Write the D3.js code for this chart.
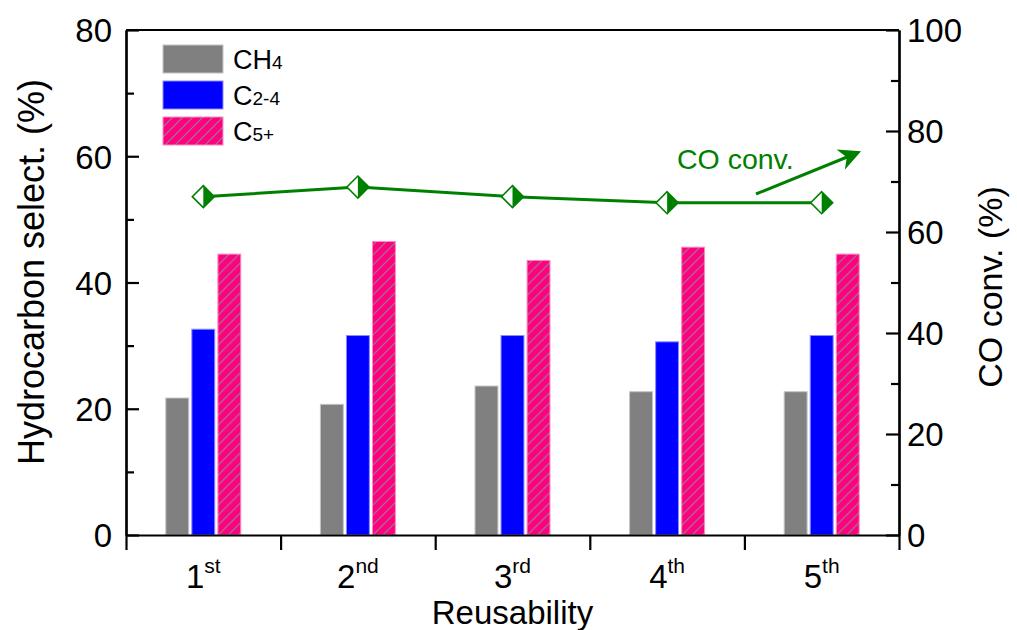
<!DOCTYPE html>
<html>
<head>
<meta charset="utf-8">
<script src="https://cdn.jsdelivr.net/npm/d3@7"></script>
<style>
  body { margin: 0; background: #fff; }
  #chart { width: 1017px; height: 630px; }
  text { font-family: "Liberation Sans", Arial, sans-serif; }
</style>
</head>
<body>
<div id="chart"></div>
<script>
// categories and values
var cycles = ["1", "2", "3", "4", "5"];
var cycleSup = ["st", "nd", "rd", "th", "th"];
var ch4 = [21.7, 20.7, 23.6, 22.7, 22.7];
var c24 = [32.6, 31.6, 31.6, 30.6, 31.6];
var c5 = [44.5, 46.5, 43.5, 45.6, 44.5];
var coConv = [67.0, 68.9, 67.0, 65.8, 65.8];

var seriesNames = ["CH4", "C2-4", "C5+"];
var leftTicks = [0, 20, 40, 60, 80];
var leftMinor = [10, 30, 50, 70];
var rightTicks = [0, 20, 40, 60, 80, 100];
var rightMinor = [10, 30, 50, 70, 90];

var width = 1017, height = 630;
var svg = d3.select("#chart").append("svg")
    .attr("width", width)
    .attr("height", height);

// hatch for C5+
var defs = svg.append("defs");
var pat = defs.append("pattern")
    .attr("id", "hatch")
    .attr("patternUnits", "userSpaceOnUse")
    .attr("width", 10).attr("height", 10);
pat.append("rect").attr("width", 10).attr("height", 10).attr("fill", "#ff0080");
pat.append("path")
    .attr("d", "M-2,2 L2,-2 M0,10 L10,0 M8,12 L12,8")
    .attr("stroke", "#8a8a8a")
    .attr("stroke-width", 1.1);

var styles = [
    { fill: "#808080", stroke: "#c4c4c4" },
    { fill: "#0000ff", stroke: "#8a8aff" },
    { fill: "url(#hatch)", stroke: "#ff8ac4" }
];

// plot frame (top is a reserved window name, so keep these prefixed)
var pLeft = 126, pRight = 899, pTop = 30, pBottom = 535;

var x = d3.scaleBand().domain(cycles).range([pLeft, pRight]).paddingInner(0).paddingOuter(0);
var xSub = d3.scaleBand().domain(seriesNames).range([-37.5, 37.5]).paddingInner(0.12);
var yL = d3.scaleLinear().domain([0, 80]).range([pBottom, pTop]);
var yR = d3.scaleLinear().domain([0, 100]).range([pBottom, pTop]);

// Bars
var table = cycles.map(function(c, i) {
    return { cycle: c, vals: [ch4[i], c24[i], c5[i]] };
});

var groups = svg.append("g").attr("id", "bars").selectAll("g")
    .data(table)
    .enter().append("g")
    .attr("transform", function(d) { return "translate(" + (x(d.cycle) + x.bandwidth() / 2) + ",0)"; });

groups.selectAll("rect")
    .data(function(d) { return d.vals.map(function(v, k) { return { k: k, v: v }; }); })
    .enter().append("rect")
    .attr("x", function(d) { return xSub(seriesNames[d.k]); })
    .attr("width", xSub.bandwidth())
    .attr("y", function(d) { return yL(d.v); })
    .attr("height", function(d) { return pBottom - yL(d.v); })
    .attr("fill", function(d) { return styles[d.k].fill; })
    .attr("stroke", function(d) { return styles[d.k].stroke; })
    .attr("stroke-width", 1);

// Axes
var axisFont = 33;

var gL = svg.append("g").attr("transform", "translate(" + pLeft + ",0)")
    .call(d3.axisLeft(yL).tickValues(leftTicks).tickSizeInner(-13).tickSizeOuter(0).tickPadding(14));
svg.append("g").attr("transform", "translate(" + pLeft + ",0)")
    .call(d3.axisLeft(yL).tickValues(leftMinor).tickSizeInner(-8).tickSizeOuter(0).tickFormat(""));

var gR = svg.append("g").attr("transform", "translate(" + pRight + ",0)")
    .call(d3.axisRight(yR).tickValues(rightTicks).tickSizeInner(-13).tickSizeOuter(0).tickPadding(8));
svg.append("g").attr("transform", "translate(" + pRight + ",0)")
    .call(d3.axisRight(yR).tickValues(rightMinor).tickSizeInner(-8).tickSizeOuter(0).tickFormat(""));

// bottom: ticks between categories
var xEdges = d3.scaleLinear().domain([0, cycles.length]).range([pLeft, pRight]);
svg.append("g").attr("transform", "translate(0," + pBottom + ")")
    .call(d3.axisBottom(xEdges).tickValues(d3.range(0, cycles.length + 1)).tickSizeInner(15).tickSizeOuter(0).tickFormat(""));

var gB = svg.append("g").attr("transform", "translate(0," + pBottom + ")")
    .call(d3.axisBottom(x).tickSize(0));
gB.select(".domain").remove();
gB.selectAll(".tick text").each(function(d, i) {
    var t = d3.select(this).text(null)
        .attr("dy", null)
        .attr("y", 53)
        .attr("text-anchor", "middle");
    t.append("tspan").text(d).style("font-size", axisFont + "px");
    t.append("tspan").text(cycleSup[i]).attr("dy", -15).style("font-size", "21px");
});

// top frame line
svg.append("line")
    .attr("x1", pLeft).attr("x2", pRight)
    .attr("y1", pTop).attr("y2", pTop)
    .attr("stroke", "#000").attr("stroke-width", 2.2);

svg.selectAll(".domain, .tick line").attr("stroke", "#000").attr("stroke-width", 2.2);
svg.selectAll(".tick text").attr("fill", "#000");
gL.selectAll(".tick text").style("font-size", axisFont + "px").attr("dy", "0.36em");
gR.selectAll(".tick text").style("font-size", axisFont + "px").attr("dy", "0.36em");
svg.selectAll("g").attr("font-family", null);

// Axis titles
svg.append("text")
    .attr("transform", "translate(44,272) rotate(-90)")
    .attr("text-anchor", "middle")
    .style("font-size", "36px")
    .text("Hydrocarbon select. (%)");

svg.append("text")
    .attr("transform", "translate(1002,287) rotate(-90)")
    .attr("text-anchor", "middle")
    .style("font-size", "34px")
    .text("CO conv. (%)");

svg.append("text")
    .attr("x", (pLeft + pRight) / 2).attr("y", 624)
    .attr("text-anchor", "middle")
    .style("font-size", "33px")
    .text("Reusability");

// CO conversion line
var green = "#008000";
var line = d3.line()
    .x(function(d, i) { return x(cycles[i]) + x.bandwidth() / 2; })
    .y(function(d) { return yR(d); });

svg.append("path")
    .datum(coConv)
    .attr("d", line)
    .attr("fill", "none")
    .attr("stroke", green)
    .attr("stroke-width", 3);

var r = 11;
var mk = svg.append("g").selectAll("g")
    .data(coConv)
    .enter().append("g")
    .attr("transform", function(d, i) { return "translate(" + (x(cycles[i]) + x.bandwidth() / 2) + "," + yR(d) + ")"; });
mk.append("path")
    .attr("d", "M0," + (-r) + "L" + r + ",0L0," + r + "L" + (-r) + ",0Z")
    .attr("fill", "#fff")
    .attr("stroke", green)
    .attr("stroke-width", 1.6);
mk.append("path")
    .attr("d", "M0," + (-r) + "L" + r + ",0L0," + r + "Z")
    .attr("fill", green);

// annotation
defs.append("marker")
    .attr("id", "arrow")
    .attr("viewBox", "0 0 10 10")
    .attr("refX", 8).attr("refY", 5)
    .attr("markerWidth", 28).attr("markerHeight", 22)
    .attr("markerUnits", "userSpaceOnUse")
    .attr("orient", "auto")
    .append("path").attr("d", "M0,0 L10,5 L0,10 L3,5 Z").attr("fill", green);

svg.append("line")
    .attr("x1", 756).attr("y1", 194)
    .attr("x2", 857).attr("y2", 153)
    .attr("stroke", green).attr("stroke-width", 3)
    .attr("marker-end", "url(#arrow)");

svg.append("text")
    .attr("x", 677).attr("y", 169)
    .attr("fill", green)
    .style("font-size", "28.5px")
    .text("CO conv.");

// Legend
var leg = svg.append("g").selectAll("g")
    .data(seriesNames)
    .enter().append("g")
    .attr("transform", function(d, i) { return "translate(163," + (45 + i * 36) + ")"; });
leg.append("rect")
    .attr("width", 60).attr("height", 28)
    .attr("fill", function(d, i) { return styles[i].fill; })
    .attr("stroke", function(d, i) { return styles[i].stroke; })
    .attr("stroke-width", 1);
var lt = leg.append("text")
    .attr("x", 70).attr("y", 24)
    .style("font-size", "27px");
lt.append("tspan").text(function(d) { return d.slice(0, d === "CH4" ? 2 : 1); });
lt.append("tspan").style("font-size", "19px")
    .text(function(d) { return d.slice(d === "CH4" ? 2 : 1); });
</script>
</body>
</html>
